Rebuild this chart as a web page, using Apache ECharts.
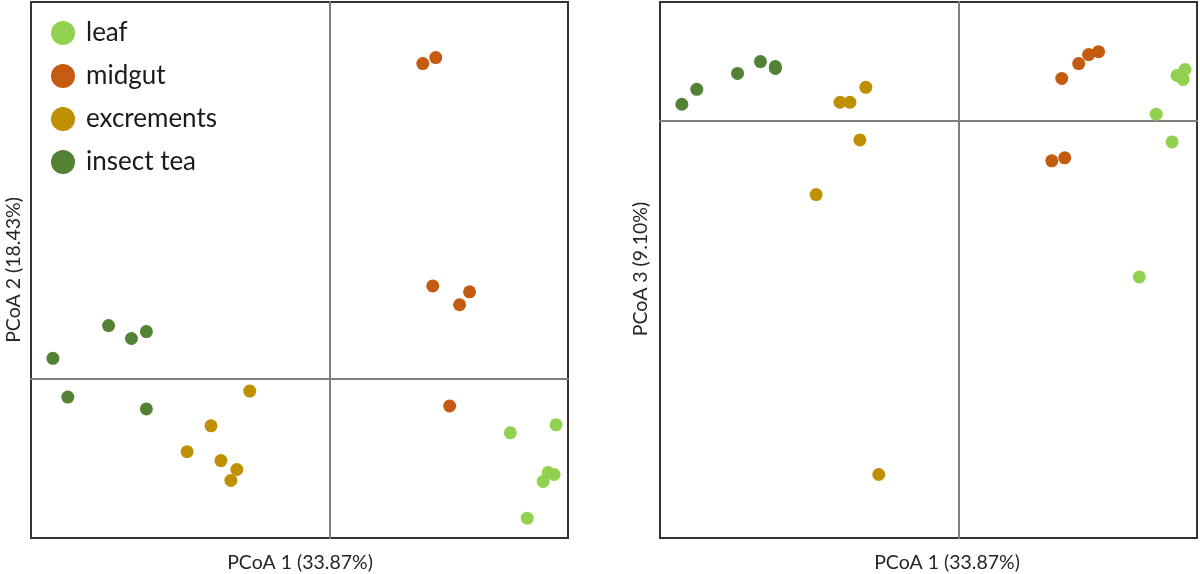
<!DOCTYPE html>
<html>
<head>
<meta charset="utf-8">
<script src="https://cdn.jsdelivr.net/npm/echarts@6/dist/echarts.min.js"></script>
<style>
  html, body { margin: 0; padding: 0; background: #fff; }
  #chart { width: 1200px; height: 574px; }
</style>
</head>
<body>
<div id="chart"></div>
<script>
// group names + colours
var groups = ['leaf', 'midgut', 'excrements', 'insect tea'];
var colors = ['#92d050', '#c55a11', '#bf9000', '#548235'];

// PCoA coordinates (axis 1, 2, 3)
var leafPC1 = [0.228, 0.182, 0.199, 0.220, 0.226, 0.215];
var leafPC2 = [-0.046, -0.054, -0.140, -0.094, -0.096, -0.103];
var leafPC3 = [0.052, -0.157, 0.007, 0.046, 0.042, -0.021];

var midgutPC1 = [0.094, 0.107, 0.104, 0.141, 0.131, 0.121];
var midgutPC2 = [0.318, 0.324, 0.094, 0.088, 0.075, -0.027];
var midgutPC3 = [-0.040, -0.037, 0.043, 0.070, 0.067, 0.058];

var excrPC1 = [-0.080, -0.119, -0.143, -0.109, -0.093, -0.099];
var excrPC2 = [-0.012, -0.047, -0.073, -0.082, -0.091, -0.102];
var excrPC3 = [-0.356, 0.019, -0.074, 0.019, 0.034, -0.019];

var teaPC1 = [-0.278, -0.263, -0.222, -0.199, -0.184, -0.184];
var teaPC2 = [0.021, -0.018, 0.054, 0.041, 0.048, -0.030];
var teaPC3 = [0.017, 0.032, 0.048, 0.060, 0.055, 0.053];

var axisNames = ['PCoA 1 (33.87%)', 'PCoA 2 (18.43%)', 'PCoA 3 (9.10%)'];

var pc1 = [leafPC1, midgutPC1, excrPC1, teaPC1];
var pc2 = [leafPC2, midgutPC2, excrPC2, teaPC2];
var pc3 = [leafPC3, midgutPC3, excrPC3, teaPC3];

function pairs(xs, ys) {
  return xs.map(function (x, i) { return [x, ys[i]]; });
}

var FONT = 'Lato, "DejaVu Sans", sans-serif';

function makeAxis(min, max) {
  return {
    type: 'value', min: min, max: max,
    axisLine: { onZero: true, lineStyle: { color: '#7f7f7f', width: 2 } },
    axisTick: { show: false },
    axisLabel: { show: false },
    splitLine: { show: false }
  };
}

var series = [];
groups.forEach(function (g, i) {
  series.push({
    name: g, type: 'scatter', xAxisIndex: 0, yAxisIndex: 0,
    symbolSize: 13, itemStyle: { color: colors[i], opacity: 1 },
    data: pairs(pc1[i], pc2[i])
  });
});
groups.forEach(function (g, i) {
  series.push({
    name: g, type: 'scatter', xAxisIndex: 1, yAxisIndex: 1,
    symbolSize: 13, itemStyle: { color: colors[i], opacity: 1 },
    data: pairs(pc1[i], pc3[i])
  });
});

var titleStyle = function (txt) {
  return { text: txt, font: '19.5px ' + FONT, fill: '#262626', align: 'center', verticalAlign: 'middle' };
};

var chart = echarts.init(document.getElementById('chart'));
chart.setOption({
  animation: false,
  backgroundColor: '#fff',
  grid: [
    { left: 31, top: 2, width: 537, height: 536, show: true, borderColor: '#333', borderWidth: 2 },
    { left: 660, top: 2, width: 537, height: 536, show: true, borderColor: '#333', borderWidth: 2 }
  ],
  xAxis: [
    Object.assign(makeAxis(-0.30, 0.24), { gridIndex: 0 }),
    Object.assign(makeAxis(-0.30, 0.24), { gridIndex: 1 })
  ],
  yAxis: [
    Object.assign(makeAxis(-0.16, 0.38), { gridIndex: 0 }),
    Object.assign(makeAxis(-0.42, 0.12), { gridIndex: 1 })
  ],
  legend: {
    data: groups,
    orient: 'vertical',
    left: 46, top: 15,
    icon: 'circle',
    itemWidth: 24, itemHeight: 24,
    itemGap: 17,
    textStyle: { fontSize: 26, color: '#1a1a1a', fontFamily: FONT, padding: [0, 0, 0, 6] }
  },
  graphic: [
    { type: 'text', x: 300, y: 563, style: titleStyle(axisNames[0]) },
    { type: 'text', x: 947, y: 563, style: titleStyle(axisNames[0]) },
    { type: 'text', x: 14, y: 270, rotation: Math.PI / 2, style: titleStyle(axisNames[1]) },
    { type: 'text', x: 641, y: 269, rotation: Math.PI / 2, style: titleStyle(axisNames[2]) }
  ],
  series: series
});
</script>
</body>
</html>
